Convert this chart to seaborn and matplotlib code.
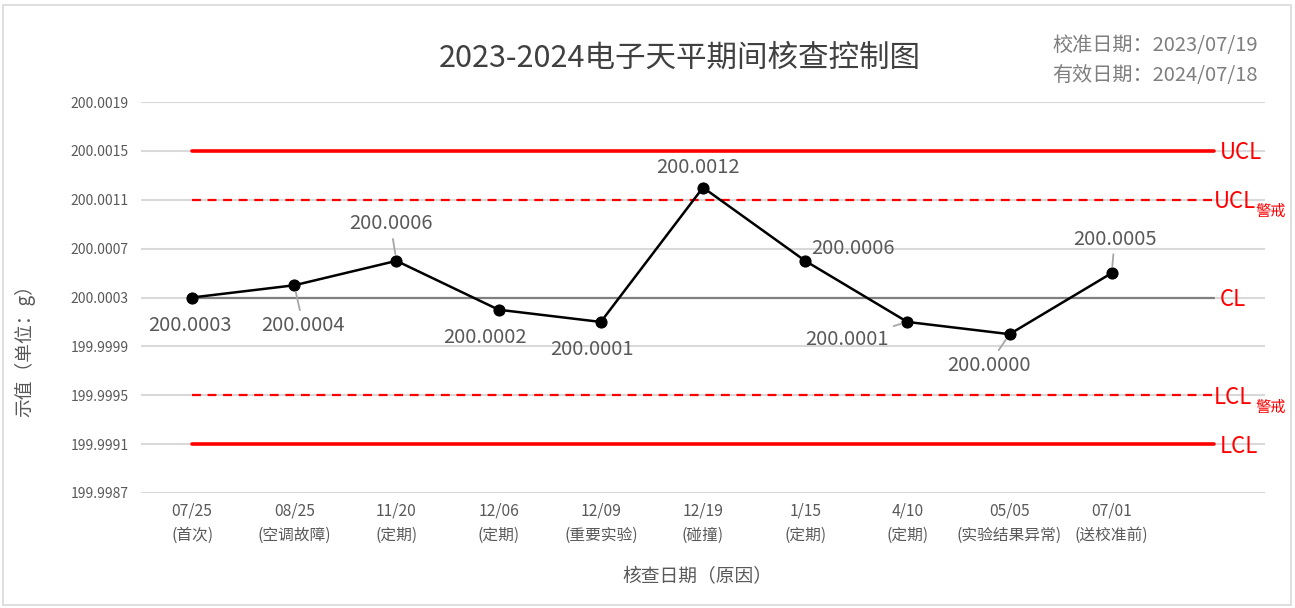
import numpy as np
import pandas as pd
import matplotlib
matplotlib.use("Agg")
import matplotlib.pyplot as plt
import seaborn as sns
from matplotlib.ticker import FuncFormatter
from matplotlib.patches import Rectangle

# ---- data ----
dates = ["07/25", "08/25", "11/20", "12/06", "12/09", "12/19", "1/15", "4/10", "05/05", "07/01"]
reasons = ["(首次)", "(空调故障)", "(定期)", "(定期)", "(重要实验)", "(碰撞)", "(定期)", "(定期)", "(实验结果异常)", "(送校准前)"]
values = [200.0003, 200.0004, 200.0006, 200.0002, 200.0001, 200.0012, 200.0006, 200.0001, 200.0000, 200.0005]
UCL = 200.0015
UCL_WARN = 200.0011
CL = 200.0003
LCL_WARN = 199.9995
LCL = 199.9991
n_slots = 11  # one empty slot after last point (limit lines extend to it)
title = "2023-2024电子天平期间核查控制图"
calib_text = "校准日期：2023/07/19"
valid_text = "有效日期：2024/07/18"
xlabel = "核查日期（原因）"
ylabel = "示值（单位：g）"

sns.set_theme(style="white")
plt.rcParams['font.family'] = ['Noto Sans CJK SC', 'DejaVu Sans']
plt.rcParams['axes.unicode_minus'] = False

W, H = 1295, 608
fig = plt.figure(figsize=(W / 100, H / 100), dpi=100)
fig.patch.set_facecolor("white")
fig.patches.append(Rectangle((3 / W, 3 / H), (W - 7) / W, (H - 8) / H, transform=fig.transFigure,
                             fill=False, edgecolor="#d9d9d9", linewidth=1.2))

ax = fig.add_axes([141 / W, (H - 493) / H, (1265 - 141) / W, (493 - 102) / H])

pos = np.arange(len(values))
slots = np.arange(n_slots)

limits = pd.DataFrame({
    "x": slots,
    "UCL": UCL, "UCLw": UCL_WARN, "CL": CL, "LCLw": LCL_WARN, "LCL": LCL,
})

red = "#ff0000"
sns.lineplot(data=limits, x="x", y="CL", ax=ax, color="#808080", linewidth=1.6, zorder=2)
sns.lineplot(data=limits, x="x", y="UCL", ax=ax, color=red, linewidth=2.6, zorder=2)
sns.lineplot(data=limits, x="x", y="LCL", ax=ax, color=red, linewidth=2.6, zorder=2)
sns.lineplot(data=limits, x="x", y="UCLw", ax=ax, color=red, linewidth=1.6, linestyle=(0, (4, 3)), zorder=2)
sns.lineplot(data=limits, x="x", y="LCLw", ax=ax, color=red, linewidth=1.6, linestyle=(0, (4, 3)), zorder=2)

sns.lineplot(x=pos, y=values, ax=ax, color="black", linewidth=1.8, marker="o",
             markersize=8, markeredgecolor="black", zorder=4)

ax.set_xlim(-0.5, n_slots - 0.5)
ax.set_ylim(199.9987, 200.0019)
yt = [199.9987 + 0.0004 * i for i in range(9)]
ax.set_yticks(yt)
ax.yaxis.set_major_formatter(FuncFormatter(lambda v, p: f"{v:.4f}"))
ax.set_xticks(pos)
ax.set_xticklabels([f"{d}\n{r}" for d, r in zip(dates, reasons)], linespacing=1.55)
ax.tick_params(axis="y", length=0, pad=9, labelsize=10, labelcolor="#595959")
ax.tick_params(axis="x", length=0, pad=7, labelsize=11.3, labelcolor="#595959")
ax.yaxis.grid(True, color="#d9d9d9", linewidth=1.5, zorder=0)
ax.xaxis.grid(False)
for s in ax.spines.values():
    s.set_visible(False)
ax.set_xlabel("")
ax.set_ylabel("")

# data labels with leader lines (offsets in pixels)
offsets = [(-2, -28), (9, -40), (-6, 37), (-14, -28), (-9, -28), (-5, 20), (48, 12), (-60, -18), (-21, -31), (3, 34)]
leaders = [False, True, True, False, False, False, False, True, True, True]
for i, (v, off, ld) in enumerate(zip(values, offsets, leaders)):
    kw = {}
    if ld:
        kw["arrowprops"] = dict(arrowstyle="-", color="#a6a6a6", lw=1.3, shrinkA=1, shrinkB=5)
    ax.annotate(f"{v:.4f}", xy=(i, v), xytext=off, textcoords="offset pixels",
                ha="center", va="center", fontsize=14.5, color="#595959", zorder=5, **kw)

# limit labels on the right
right_x = n_slots - 1
for val, main, sub in [(UCL, "UCL", None), (UCL_WARN, "UCL", "警戒"), (CL, "CL", None),
                       (LCL_WARN, "LCL", "警戒"), (LCL, "LCL", None)]:
    dx = 0 if sub else 6
    ax.annotate(main, xy=(right_x, val), xytext=(dx, -2), textcoords="offset pixels",
                ha="left", va="center", fontsize=16, color=red, zorder=5)
    if sub:
        ax.annotate(sub, xy=(right_x, val), xytext=(42, -12), textcoords="offset pixels",
                    ha="left", va="center", fontsize=11, color=red, zorder=5)

fig.text(680 / W, 1 - 58 / H, title, ha="center", va="center", fontsize=22, color="#404040")
fig.text(1258 / W, 1 - 46 / H, calib_text, ha="right", va="center", fontsize=14.5, color="#7f7f7f")
fig.text(1258 / W, 1 - 75 / H, valid_text, ha="right", va="center", fontsize=14.5, color="#7f7f7f")
fig.text(697 / W, 1 - 577 / H, xlabel, ha="center", va="center", fontsize=13.5, color="#595959")
fig.text(25 / W, 1 - 346 / H, ylabel, ha="center", va="center", rotation=90, fontsize=13.5, color="#595959")

fig.savefig("out.png", dpi=100, facecolor="white")
